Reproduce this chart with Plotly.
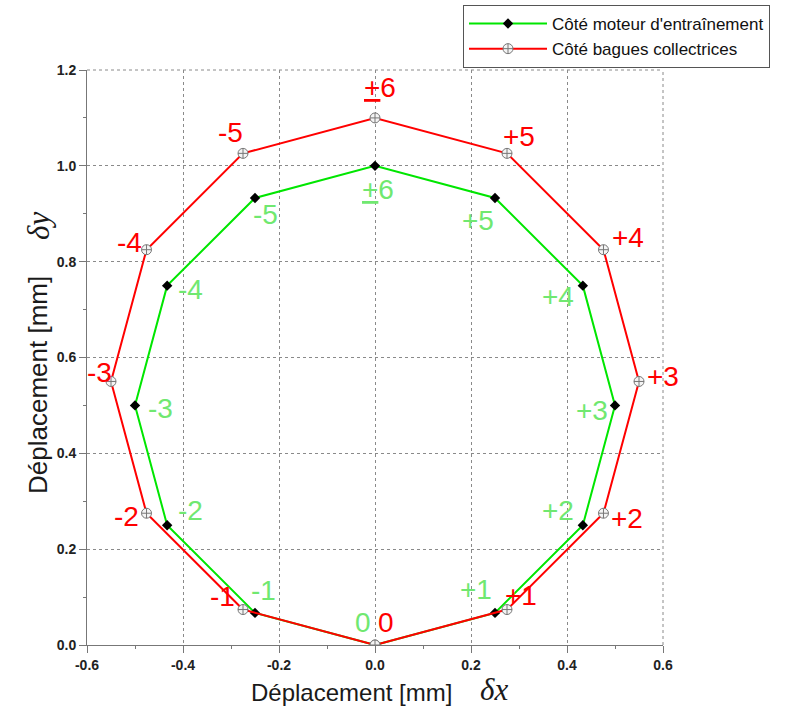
import plotly.graph_objects as go

# --- data ---
labels = ["0", "+1", "+2", "+3", "+4", "+5", "<u>+</u>6", "-5", "-4", "-3", "-2", "-1", "0"]
green_x = [0.0, 0.25, 0.433, 0.5, 0.433, 0.25, 0.0, -0.25, -0.433, -0.5, -0.433, -0.25, 0.0]
green_y = [0.0, 0.067, 0.25, 0.5, 0.75, 0.933, 1.0, 0.933, 0.75, 0.5, 0.25, 0.067, 0.0]
red_x = [0.0, 0.275, 0.476, 0.55, 0.476, 0.275, 0.0, -0.275, -0.476, -0.55, -0.476, -0.275, 0.0]
red_y = [0.0, 0.074, 0.275, 0.55, 0.825, 1.026, 1.1, 1.026, 0.825, 0.55, 0.275, 0.074, 0.0]
x_ticks = [-0.6, -0.4, -0.2, 0.0, 0.2, 0.4, 0.6]
y_ticks = [0.0, 0.2, 0.4, 0.6, 0.8, 1.0, 1.2]
green_name = "Côté moteur d'entraînement"
red_name = "Côté bagues collectrices"

# label pixel offsets (styling)
green_shift = [(-12, 23), (-19, 23), (-25, 15), (-23, -5), (-25, -11), (-17, -23), (3, -24),
               (10, -17), (23, -4), (25, -3), (23, 15), (8, 22)]
red_shift = [(11, 23), (14, 14), (24, -5), (24, 5), (25, 12), (12, 17), (5, 30),
             (-13, 21), (-17, 7), (-12, 9), (-20, -3), (-21, 13)]

GREEN_LINE = "#00e600"
GREEN_TXT = "#70e870"
RED = "#ff0000"
FONT = "Liberation Sans, Arial, sans-serif"
GRID = "#8a8a8a"
LABEL_SIZE = 28

fig = go.Figure()
fig.add_trace(go.Scatter(
    x=green_x, y=green_y, mode="lines+markers", name=green_name,
    line=dict(color=GREEN_LINE, width=2),
    marker=dict(symbol="diamond", size=8, color="black"),
))
fig.add_trace(go.Scatter(
    x=red_x, y=red_y, mode="lines+markers", name=red_name,
    line=dict(color=RED, width=2),
    marker=dict(symbol="circle-cross", size=10, color="#f4f4f4",
                line=dict(color="#777777", width=1)),
))

ann = []
for i in range(12):
    dx, dy = green_shift[i]
    ann.append(dict(x=green_x[i], y=green_y[i], text=labels[i], showarrow=False,
                    xshift=dx, yshift=dy, font=dict(family=FONT, size=LABEL_SIZE, color=GREEN_TXT)))
for i in range(12):
    dx, dy = red_shift[i]
    ann.append(dict(x=red_x[i], y=red_y[i], text=labels[i], showarrow=False,
                    xshift=dx, yshift=dy, font=dict(family=FONT, size=LABEL_SIZE, color=RED)))

# axis titles
ann.append(dict(xref="paper", yref="paper", x=(351 - 87) / 576, y=-(692 - 645) / 575,
                xanchor="center", yanchor="middle",
                text="Déplacement [mm]", showarrow=False,
                font=dict(family=FONT, size=24, color="#1a1a1a")))
ann.append(dict(xref="paper", yref="paper", x=(494 - 87) / 576, y=-(689 - 645) / 575,
                xanchor="center", yanchor="middle",
                text="δx", showarrow=False,
                font=dict(family="Liberation Serif, serif", size=31, color="#1a1a1a", style="italic")))
ann.append(dict(xref="paper", yref="paper", x=-(87 - 38) / 576, y=(645 - 385) / 575,
                xanchor="center", yanchor="middle",
                text="Déplacement [mm]", showarrow=False, textangle=-90,
                font=dict(family=FONT, size=26, color="#1a1a1a")))
ann.append(dict(xref="paper", yref="paper", x=-(87 - 39) / 576, y=(645 - 226) / 575,
                xanchor="center", yanchor="middle",
                text="δy", showarrow=False, textangle=-90,
                font=dict(family="Liberation Serif, serif", size=31, color="#1a1a1a", style="italic")))

axis_common = dict(
    showline=True, linecolor="#777777", linewidth=1,
    ticks="outside", ticklen=7, tickcolor="#777777", tickwidth=1,
    showgrid=True, gridcolor=GRID, griddash="3px,3px", gridwidth=1,
    zeroline=False, automargin=False,
    tickfont=dict(family=FONT, size=14, color="#222222", weight="bold"),
    minor=dict(ticks="outside", ticklen=3, tickcolor="#777777", dtick=0.1, showgrid=False),
)

fig.update_layout(
    width=788, height=710,
    margin=dict(l=87, r=125, t=70, b=65, autoexpand=False),
    paper_bgcolor="white", plot_bgcolor="white",
    xaxis=dict(range=[-0.6, 0.6], tickvals=x_ticks, ticktext=[f"{v:.1f}" for v in x_ticks], **axis_common),
    yaxis=dict(range=[0.0, 1.2], tickvals=y_ticks, ticktext=[f"{v:.1f}" for v in y_ticks], **axis_common),
    showlegend=True,
    legend=dict(xref="container", yref="container", x=463 / 788, y=1 - 5 / 710,
                xanchor="left", yanchor="top",
                bgcolor="white", bordercolor="#555555", borderwidth=1,
                font=dict(family=FONT, size=17, color="#111111"), itemwidth=78,
                tracegroupgap=0),
    annotations=ann,
    shapes=[
        dict(type="line", xref="paper", yref="paper", x0=0, x1=1, y0=1, y1=1,
             line=dict(color=GRID, width=1, dash="3px,3px"), layer="below"),
        dict(type="line", xref="paper", yref="paper", x0=1, x1=1, y0=0, y1=1,
             line=dict(color=GRID, width=1, dash="3px,3px"), layer="below"),
    ],
)

fig.write_html("out.html", config={"displayModeBar": False},
               post_script="document.body.style.margin='0';")
